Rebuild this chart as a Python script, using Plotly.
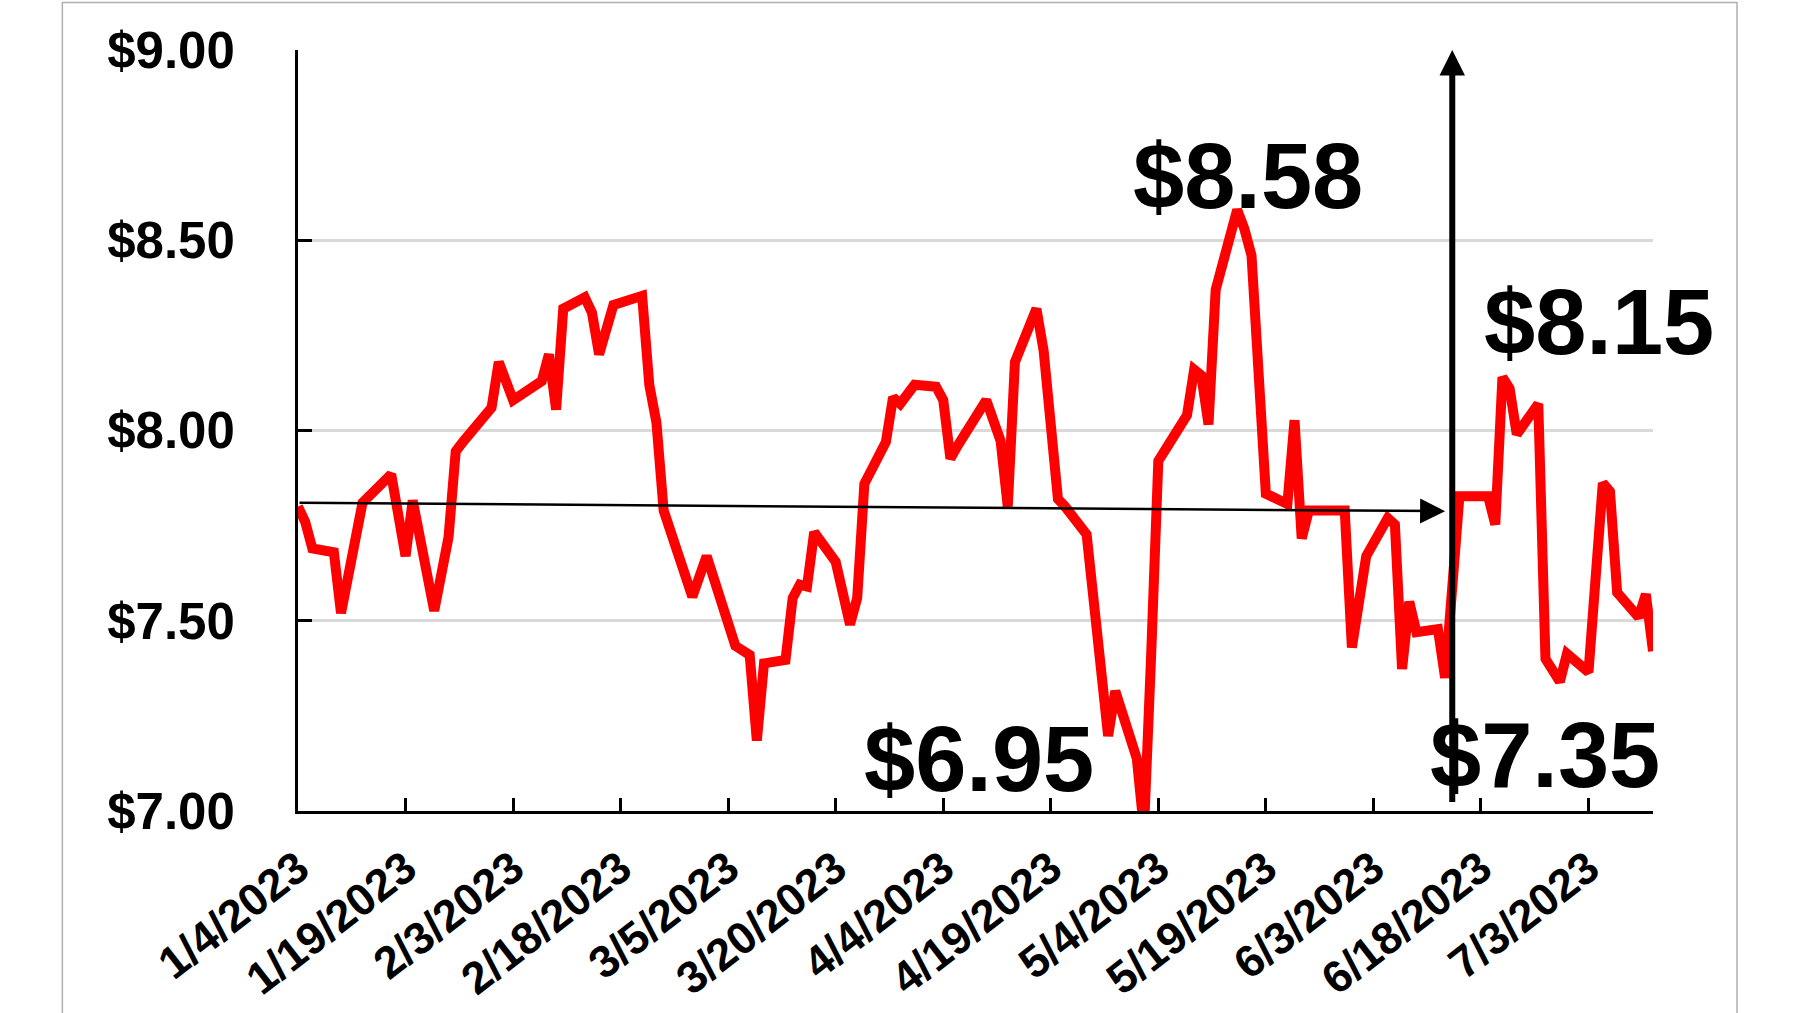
import plotly.graph_objects as go

# ---------------- data ----------------
dates = [
    "2023-01-04", "2023-01-05", "2023-01-06", "2023-01-09", "2023-01-10", "2023-01-12",
    "2023-01-13", "2023-01-17", "2023-01-19", "2023-01-20", "2023-01-23", "2023-01-25",
    "2023-01-26", "2023-01-27", "2023-01-30", "2023-01-31",
    "2023-02-01", "2023-02-03", "2023-02-07", "2023-02-08", "2023-02-09", "2023-02-10",
    "2023-02-13", "2023-02-14", "2023-02-15", "2023-02-17", "2023-02-21", "2023-02-22",
    "2023-02-23", "2023-02-24", "2023-02-28",
    "2023-03-02", "2023-03-06", "2023-03-07", "2023-03-08", "2023-03-09", "2023-03-10",
    "2023-03-13", "2023-03-14", "2023-03-15", "2023-03-16", "2023-03-17", "2023-03-20",
    "2023-03-22", "2023-03-23", "2023-03-24", "2023-03-27", "2023-03-28", "2023-03-29",
    "2023-03-31",
    "2023-04-03", "2023-04-04", "2023-04-05", "2023-04-06", "2023-04-10", "2023-04-12",
    "2023-04-13", "2023-04-14", "2023-04-17", "2023-04-18", "2023-04-20", "2023-04-21",
    "2023-04-24", "2023-04-27", "2023-04-28",
    "2023-05-01", "2023-05-02", "2023-05-03", "2023-05-04", "2023-05-05", "2023-05-08",
    "2023-05-09", "2023-05-10", "2023-05-11", "2023-05-12", "2023-05-15", "2023-05-16",
    "2023-05-17", "2023-05-19", "2023-05-22", "2023-05-23", "2023-05-24", "2023-05-25",
    "2023-05-30", "2023-05-31",
    "2023-06-02", "2023-06-05", "2023-06-06", "2023-06-07", "2023-06-08", "2023-06-09",
    "2023-06-12", "2023-06-13", "2023-06-15", "2023-06-19", "2023-06-20", "2023-06-21",
    "2023-06-22", "2023-06-23", "2023-06-26", "2023-06-27", "2023-06-29", "2023-06-30",
    "2023-07-03", "2023-07-05", "2023-07-06", "2023-07-07", "2023-07-10", "2023-07-11",
    "2023-07-12",
]
prices = [
    7.80, 7.76, 7.69, 7.68, 7.52, 7.72,
    7.81, 7.885, 7.67, 7.816, 7.526, 7.72,
    7.945, 7.97, 8.04, 8.06,
    8.18, 8.08, 8.13, 8.20, 8.055, 8.32,
    8.35, 8.31, 8.20, 8.33, 8.354, 8.12,
    8.02, 7.79, 7.563,
    7.67, 7.434, 7.42, 7.41, 7.185, 7.388,
    7.397, 7.56, 7.595, 7.59, 7.733, 7.655,
    7.49, 7.56, 7.86, 7.97, 8.087, 8.07,
    8.12,
    8.115, 8.08, 7.926, 7.96, 8.08, 7.973,
    7.80, 8.18, 8.32, 8.21, 7.82, 7.80,
    7.727, 7.197, 7.315,
    7.138, 6.95, 7.41, 7.92, 7.95, 8.04,
    8.16, 8.145, 8.016, 8.37, 8.58, 8.53,
    8.46, 7.834, 7.807, 8.027, 7.716, 7.79,
    7.79, 7.43,
    7.67, 7.77, 7.753, 7.373, 7.55, 7.47,
    7.478, 7.35, 7.827, 7.827, 7.753, 8.14,
    8.11, 7.99, 8.07, 7.40, 7.34, 7.413,
    7.365, 7.862, 7.84, 7.574, 7.509, 7.57,
    7.42,
]

tick_dates = ["2023-01-04", "2023-01-19", "2023-02-03", "2023-02-18", "2023-03-05",
              "2023-03-20", "2023-04-04", "2023-04-19", "2023-05-04", "2023-05-19",
              "2023-06-03", "2023-06-18", "2023-07-03"]
tick_labels = ["1/4/2023", "1/19/2023", "2/3/2023", "2/18/2023", "3/5/2023",
               "3/20/2023", "4/4/2023", "4/19/2023", "5/4/2023", "5/19/2023",
               "6/3/2023", "6/18/2023", "7/3/2023"]
y_ticks = [7.0, 7.5, 8.0, 8.5, 9.0]
y_labels = ["$7.00", "$7.50", "$8.00", "$8.50", "$9.00"]

# callout labels (text, date, price position)
callout_texts = ["$8.58", "$8.15", "$6.95", "$7.35"]
callout_x = ["2023-05-16 12:00", "2023-07-04 10:00", "2023-04-09", "2023-06-27"]
callout_y = [8.67, 8.285, 7.136, 7.148]

# trend arrow (start / end) and marker arrow
trend_start_date, trend_start_val = "2023-01-04", 7.81
trend_end_date, trend_end_val = "2023-06-13", 7.788
marker_date, marker_low, marker_high = "2023-06-14", 7.02, 9.0

FONT = "Liberation Sans, Arial, sans-serif"

fig = go.Figure()
fig.add_trace(go.Scatter(
    x=dates, y=prices, mode="lines",
    line=dict(color="#FF0000", width=10),
    showlegend=False, hoverinfo="skip",
))

annotations = []
for t, xx, yy in zip(callout_texts, callout_x, callout_y):
    annotations.append(dict(
        x=xx, y=yy, xref="x", yref="y", text=t, showarrow=False,
        xanchor="center", yanchor="middle",
        font=dict(family=FONT, size=92, color="black", weight="bold"),
    ))

annotations.append(dict(
    x=trend_end_date, y=trend_end_val, ax=trend_start_date, ay=trend_start_val,
    xref="x", yref="y", axref="x", ayref="y", text="", showarrow=True,
    arrowhead=2, arrowsize=2.0, arrowwidth=2.5, arrowcolor="black", standoff=0,
))
annotations.append(dict(
    x=marker_date, y=marker_high, ax=marker_date, ay=marker_low,
    xref="x", yref="y", axref="x", ayref="y", text="", showarrow=True,
    arrowhead=2, arrowsize=0.85, arrowwidth=6, arrowcolor="black", standoff=0,
))

fig.update_layout(
    width=1800, height=1013,
    margin=dict(l=298, r=147, t=50, b=202, autoexpand=False),
    paper_bgcolor="white", plot_bgcolor="white",
    showlegend=False,
    annotations=annotations,
    shapes=[dict(
        type="rect", xref="paper", yref="paper",
        x0=-0.1739, x1=1.062, y0=-0.35, y1=1.0625,
        line=dict(color="#b0b0b0", width=1.5), fillcolor="rgba(0,0,0,0)", layer="below",
    )],
)

fig.update_xaxes(
    type="date",
    range=["2023-01-04", "2023-07-12"],
    tickvals=tick_dates, ticktext=tick_labels,
    tickangle=-38,
    tickfont=dict(family=FONT, size=45, color="black", weight="bold"),
    ticks="inside", ticklen=13, tickwidth=2.5, tickcolor="black",
    showline=True, linecolor="black", linewidth=3,
    showgrid=False, zeroline=False, automargin=False,
    ticklabelstandoff=10,
)
fig.update_yaxes(
    range=[7.0, 9.0],
    tickvals=y_ticks, ticktext=y_labels,
    tickfont=dict(family=FONT, size=51, color="black", weight="bold"),
    ticks="inside", ticklen=14, tickwidth=3, tickcolor="black",
    showline=True, linecolor="black", linewidth=3,
    showgrid=True, gridcolor="#d9d9d9", gridwidth=2.5,
    zeroline=False, automargin=False,
    ticklabelstandoff=50,
)

fig.write_html(
    "out.html",
    config={"displayModeBar": False},
    post_script="document.body.style.margin='0';",
)
